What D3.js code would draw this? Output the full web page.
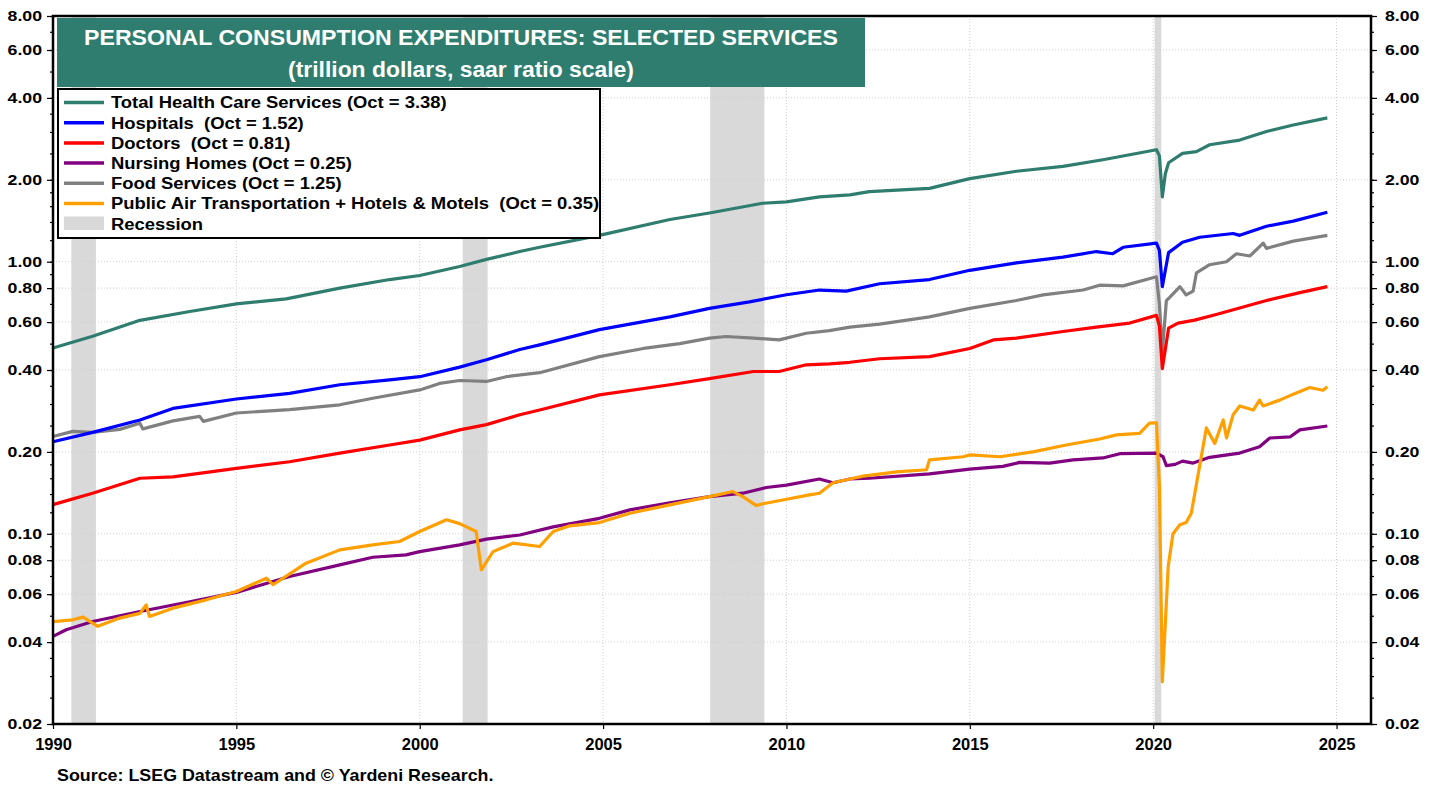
<!DOCTYPE html>
<html>
<head>
<meta charset="utf-8">
<script src="https://cdn.jsdelivr.net/npm/d3@7"></script>
<style>
  body { margin: 0; background: #fff; }
  svg { display: block; }
  text { font-family: Arial, "Liberation Sans", sans-serif; font-weight: bold; white-space: pre; }
</style>
</head>
<body>
<svg id="chart" width="1438" height="785"></svg>
<script>
// series: [year, trillion $]
const health = [[1990.0,0.482],[1991.08,0.532],[1992.37,0.609],[1993.73,0.656],[1995.0,0.70],[1996.36,0.73],[1997.82,0.80],[1999.18,0.86],[2000.0,0.89],[2001.09,0.96],[2001.82,1.02],[2002.73,1.09],[2003.27,1.13],[2004.9,1.25],[2006.82,1.43],[2007.9,1.51],[2009.35,1.64],[2010.0,1.66],[2010.9,1.73],[2011.73,1.76],[2012.26,1.81],[2013.9,1.86],[2015.0,2.02],[2016.27,2.15],[2017.54,2.24],[2018.63,2.37],[2020.09,2.58],[2020.17,2.45],[2020.25,1.73],[2020.33,2.1],[2020.42,2.31],[2020.8,2.50],[2021.18,2.54],[2021.54,2.69],[2022.36,2.80],[2023.09,3.01],[2023.82,3.18],[2024.75,3.38]]

const hospitals = [[1990.0,0.218],[1991.08,0.236],[1992.37,0.262],[1993.27,0.289],[1995.0,0.313],[1996.45,0.328],[1997.82,0.353],[1999.18,0.368],[2000.0,0.378],[2001.09,0.41],[2001.82,0.436],[2002.73,0.476],[2003.27,0.495],[2004.9,0.563],[2006.82,0.627],[2007.9,0.674],[2008.99,0.712],[2010.0,0.756],[2010.9,0.787],[2011.63,0.78],[2012.54,0.83],[2013.9,0.86],[2015.0,0.93],[2016.27,0.99],[2017.54,1.04],[2018.45,1.09],[2018.9,1.07],[2019.18,1.13],[2020.09,1.17],[2020.17,1.1],[2020.25,0.81],[2020.42,1.08],[2020.8,1.18],[2021.27,1.23],[2022.18,1.27],[2022.36,1.25],[2023.09,1.35],[2023.82,1.41],[2024.75,1.52]]

const doctors = [[1990.0,0.128],[1991.08,0.141],[1992.37,0.160],[1993.27,0.162],[1995.0,0.174],[1996.45,0.184],[1997.82,0.198],[1999.18,0.212],[2000.0,0.221],[2001.09,0.241],[2001.82,0.252],[2002.73,0.274],[2003.27,0.285],[2004.9,0.324],[2006.82,0.353],[2007.9,0.372],[2009.1,0.395],[2009.8,0.395],[2010.54,0.418],[2011.17,0.421],[2011.73,0.427],[2012.54,0.44],[2013.9,0.448],[2015.0,0.48],[2015.64,0.516],[2016.27,0.524],[2017.54,0.554],[2018.45,0.575],[2019.36,0.595],[2020.09,0.635],[2020.17,0.58],[2020.25,0.405],[2020.42,0.57],[2020.68,0.595],[2021.13,0.61],[2021.72,0.64],[2023.09,0.72],[2024.0,0.77],[2024.75,0.81]]

const nursing = [[1990.0,0.042],[1990.36,0.0444],[1991.08,0.0476],[1992.37,0.0518],[1993.73,0.0563],[1995.0,0.0609],[1996.45,0.0697],[1997.82,0.0769],[1998.72,0.082],[1999.63,0.0837],[2000.0,0.086],[2001.09,0.0911],[2001.82,0.0956],[2002.73,0.099],[2003.64,0.106],[2004.9,0.114],[2005.73,0.1225],[2006.82,0.130],[2007.9,0.137],[2008.81,0.141],[2009.45,0.148],[2010.0,0.151],[2010.9,0.159],[2011.27,0.154],[2011.73,0.159],[2012.26,0.16],[2013.9,0.166],[2015.0,0.173],[2015.9,0.177],[2016.36,0.183],[2017.18,0.182],[2017.82,0.187],[2018.63,0.19],[2019.09,0.197],[2020.09,0.198],[2020.27,0.192],[2020.36,0.178],[2020.6,0.18],[2020.8,0.185],[2021.09,0.182],[2021.54,0.191],[2022.36,0.198],[2022.9,0.209],[2023.18,0.225],[2023.73,0.227],[2024.0,0.241],[2024.75,0.249]]

const food = [[1990.0,0.228],[1990.54,0.238],[1991.08,0.236],[1991.82,0.242],[1992.37,0.255],[1992.45,0.243],[1993.27,0.26],[1994.0,0.27],[1994.1,0.259],[1995.0,0.278],[1996.45,0.286],[1997.82,0.298],[1998.72,0.315],[2000.0,0.338],[2000.54,0.357],[2001.09,0.366],[2001.82,0.363],[2002.36,0.378],[2003.27,0.391],[2004.9,0.448],[2006.1,0.48],[2007.09,0.50],[2007.9,0.524],[2008.36,0.531],[2009.1,0.524],[2009.8,0.516],[2010.54,0.546],[2011.17,0.558],[2011.73,0.575],[2012.54,0.59],[2013.9,0.627],[2015.0,0.674],[2016.27,0.72],[2017.0,0.755],[2018.09,0.787],[2018.54,0.82],[2019.18,0.815],[2020.09,0.88],[2020.17,0.7],[2020.25,0.467],[2020.36,0.72],[2020.45,0.74],[2020.73,0.81],[2020.9,0.755],[2021.09,0.78],[2021.18,0.91],[2021.54,0.975],[2022.0,1.0],[2022.27,1.07],[2022.64,1.05],[2023.0,1.17],[2023.09,1.12],[2023.82,1.19],[2024.75,1.25]]

const airHotels = [[1990.0,0.0476],[1990.54,0.0483],[1990.82,0.0494],[1991.22,0.0457],[1991.82,0.049],[1992.37,0.051],[1992.54,0.0548],[1992.63,0.0497],[1993.27,0.0533],[1994.18,0.0572],[1995.0,0.0614],[1995.82,0.0687],[1996.0,0.065],[1996.9,0.078],[1997.82,0.0873],[1998.72,0.0911],[1999.45,0.0937],[2000.0,0.102],[2000.73,0.1126],[2001.09,0.109],[2001.54,0.102],[2001.68,0.0737],[2002.0,0.086],[2002.54,0.0924],[2003.27,0.0898],[2003.64,0.102],[2004.09,0.107],[2004.9,0.11],[2005.73,0.119],[2006.82,0.1278],[2007.9,0.137],[2008.54,0.143],[2008.81,0.137],[2009.18,0.127],[2009.36,0.129],[2010.0,0.134],[2010.63,0.139],[2010.9,0.141],[2011.27,0.154],[2011.73,0.159],[2012.09,0.163],[2013.0,0.169],[2013.82,0.172],[2013.9,0.187],[2014.82,0.192],[2015.0,0.195],[2015.82,0.192],[2016.72,0.20],[2017.63,0.212],[2018.54,0.223],[2019.0,0.231],[2019.63,0.234],[2019.9,0.255],[2020.09,0.256],[2020.17,0.15],[2020.25,0.0286],[2020.41,0.0758],[2020.54,0.10],[2020.73,0.108],[2020.9,0.11],[2021.04,0.119],[2021.45,0.245],[2021.68,0.215],[2021.91,0.262],[2022.0,0.225],[2022.18,0.274],[2022.36,0.295],[2022.73,0.285],[2022.9,0.31],[2023.0,0.295],[2023.45,0.31],[2023.73,0.322],[2023.82,0.326],[2024.27,0.345],[2024.63,0.337],[2024.75,0.347]]

const recessions = [[1990.5,1991.17],[2001.17,2001.85],[2007.92,2009.4],[2020.04,2020.22]]

const seriesNames = ['Total Health Care Services (Oct = 3.38)', 'Hospitals  (Oct = 1.52)', 'Doctors  (Oct = 0.81)', 'Nursing Homes (Oct = 0.25)', 'Food Services (Oct = 1.25)', 'Public Air Transportation + Hotels & Motels  (Oct = 0.35)']
const seriesColors = ['#2e7d6e', '#0000ff', '#ff0000', '#800080', '#808080', '#ffa000']
const yTicks = [0.02, 0.04, 0.06, 0.08, 0.10, 0.20, 0.40, 0.60, 0.80, 1.00, 2.00, 4.00, 6.00, 8.00]
const xTicks = [1990, 1995, 2000, 2005, 2010, 2015, 2020, 2025]

const plot = { left: 53, right: 1371, top: 16, bottom: 724 }

const svg = d3.select('#chart')

const x = d3.scaleLinear().domain([1990, 2025.94]).range([plot.left, plot.right])
const y = d3.scaleLog().domain([0.02, 8]).range([plot.bottom, plot.top])

// the source chart's lettering is wider than Arial; stretch text horizontally
function stretch(sel, factor) {
    sel.each(function () {
        const w = this.getComputedTextLength()
        d3.select(this).attr('textLength', w * factor).attr('lengthAdjust', 'spacingAndGlyphs')
    })
}

// minor tick positions on the log axis
const minorTicks = []
;[0.01, 0.1, 1].forEach(p => {
    [1, 1.2, 1.4, 1.6, 1.8, 2, 2.5, 3, 3.5, 4, 5, 6, 7, 8, 9].forEach(m => {
        const v = +(m * p).toFixed(4)
        if (v >= 0.02 && v <= 8) minorTicks.push(v)
    })
})

// recession shading
svg.append('g')
    .selectAll('rect')
    .data(recessions)
    .enter()
    .append('rect')
    .attr('x', d => x(d[0]))
    .attr('y', plot.top)
    .attr('width', d => x(d[1]) - x(d[0]))
    .attr('height', plot.bottom - plot.top)
    .attr('fill', '#d9d9d9')

// grid
svg.append('g')
    .selectAll('line')
    .data(yTicks.slice(1, -1))
    .enter()
    .append('line')
    .attr('x1', plot.left)
    .attr('x2', plot.right)
    .attr('y1', d => y(d))
    .attr('y2', d => y(d))
    .attr('stroke', '#cfcfcf')
    .attr('stroke-dasharray', '1,2')

svg.append('g')
    .selectAll('line')
    .data(xTicks.slice(1))
    .enter()
    .append('line')
    .attr('x1', d => x(d))
    .attr('x2', d => x(d))
    .attr('y1', plot.top)
    .attr('y2', plot.bottom)
    .attr('stroke', '#cfcfcf')
    .attr('stroke-dasharray', '1,2')

// lines
const allSeries = [health, hospitals, doctors, nursing, food, airHotels]
const line = d3.line().x(d => x(d[0])).y(d => y(d[1]))

// draw order: purple under orange, gray under red etc.
const drawOrder = [3, 5, 4, 2, 1, 0]
drawOrder.forEach(i => {
    svg.append('path')
        .datum(allSeries[i])
        .attr('d', line)
        .attr('fill', 'none')
        .attr('stroke', seriesColors[i])
        .attr('stroke-width', 3.2)
        .attr('stroke-linejoin', 'round')
})

// axes
const fmt = d3.format('.2f')
const leftAxis = svg.append('g')
    .attr('transform', 'translate(' + plot.left + ',0)')
    .call(d3.axisLeft(y).tickValues(yTicks).tickFormat(fmt).tickSize(6).tickPadding(5))
const leftMinor = svg.append('g')
    .attr('transform', 'translate(' + plot.left + ',0)')
    .call(d3.axisLeft(y).tickValues(minorTicks).tickFormat('').tickSize(3))
const rightAxis = svg.append('g')
    .attr('transform', 'translate(' + plot.right + ',0)')
    .call(d3.axisRight(y).tickValues(yTicks).tickFormat(fmt).tickSize(6).tickPadding(8))
const rightMinor = svg.append('g')
    .attr('transform', 'translate(' + plot.right + ',0)')
    .call(d3.axisRight(y).tickValues(minorTicks).tickFormat('').tickSize(3))
const bottomAxis = svg.append('g')
    .attr('transform', 'translate(0,' + plot.bottom + ')')
    .call(d3.axisBottom(x).tickValues(xTicks).tickFormat(d3.format('d')).tickSize(5).tickPadding(9))

;[leftAxis, leftMinor, rightAxis, rightMinor, bottomAxis].forEach(g => {
    g.select('.domain').remove()
    g.selectAll('line').attr('stroke', '#000').attr('stroke-width', 1.2)
    g.selectAll('text').attr('fill', '#000').attr('font-family', 'Arial, "Liberation Sans", sans-serif').attr('font-weight', 'bold')
})
leftAxis.selectAll('text').attr('font-size', '15px').call(stretch, 1.18)
rightAxis.selectAll('text').attr('font-size', '15px').call(stretch, 1.18)
bottomAxis.selectAll('text')
    .attr('font-size', '16.5px')
    .attr('font-family', '"Liberation Sans Narrow", "Arial Narrow", Arial, sans-serif')

// plot frame
svg.append('rect')
    .attr('x', plot.left)
    .attr('y', plot.top)
    .attr('width', plot.right - plot.left)
    .attr('height', plot.bottom - plot.top)
    .attr('fill', 'none')
    .attr('stroke', '#000')
    .attr('stroke-width', 2.5)

// title box
svg.append('rect')
    .attr('x', 57).attr('y', 18)
    .attr('width', 808).attr('height', 69)
    .attr('fill', '#2e7d6e')
svg.append('text')
    .attr('x', 461).attr('y', 45)
    .attr('text-anchor', 'middle')
    .attr('fill', '#fff')
    .attr('font-size', '22px')
    .text('PERSONAL CONSUMPTION EXPENDITURES: SELECTED SERVICES')
    .call(stretch, 1.05)
svg.append('text')
    .attr('x', 461).attr('y', 77)
    .attr('text-anchor', 'middle')
    .attr('fill', '#fff')
    .attr('font-size', '22px')
    .text('(trillion dollars, saar ratio scale)')
    .call(stretch, 1.04)

// legend
const legend = svg.append('g')
legend.append('rect')
    .attr('x', 58).attr('y', 89)
    .attr('width', 542).attr('height', 149)
    .attr('fill', '#fff')
    .attr('stroke', '#000')
    .attr('stroke-width', 2)

seriesNames.forEach((name, i) => {
    const ly = 102.5 + i * 20.2
    legend.append('line')
        .attr('x1', 64).attr('x2', 104)
        .attr('y1', ly).attr('y2', ly)
        .attr('stroke', seriesColors[i])
        .attr('stroke-width', 3.5)
    legend.append('text')
        .attr('x', 111).attr('y', ly + 5.8)
        .attr('font-size', '16px')
        .attr('fill', '#000')
        .text(name)
        .call(stretch, 1.15)
})
legend.append('rect')
    .attr('x', 64).attr('y', 216.5)
    .attr('width', 40).attr('height', 13.5)
    .attr('fill', '#d9d9d9')
legend.append('text')
    .attr('x', 111).attr('y', 223.7 + 5.8)
    .attr('font-size', '16px')
    .attr('fill', '#000')
    .text('Recession')
    .call(stretch, 1.15)

// source
svg.append('text')
    .attr('x', 57).attr('y', 781)
    .attr('font-size', '17px')
    .attr('font-family', '"Liberation Sans Narrow", "Arial Narrow", Arial, sans-serif')
    .attr('fill', '#000')
    .text('Source: LSEG Datastream and © Yardeni Research.')
    .call(stretch, 1.05)
</script>
</body>
</html>
